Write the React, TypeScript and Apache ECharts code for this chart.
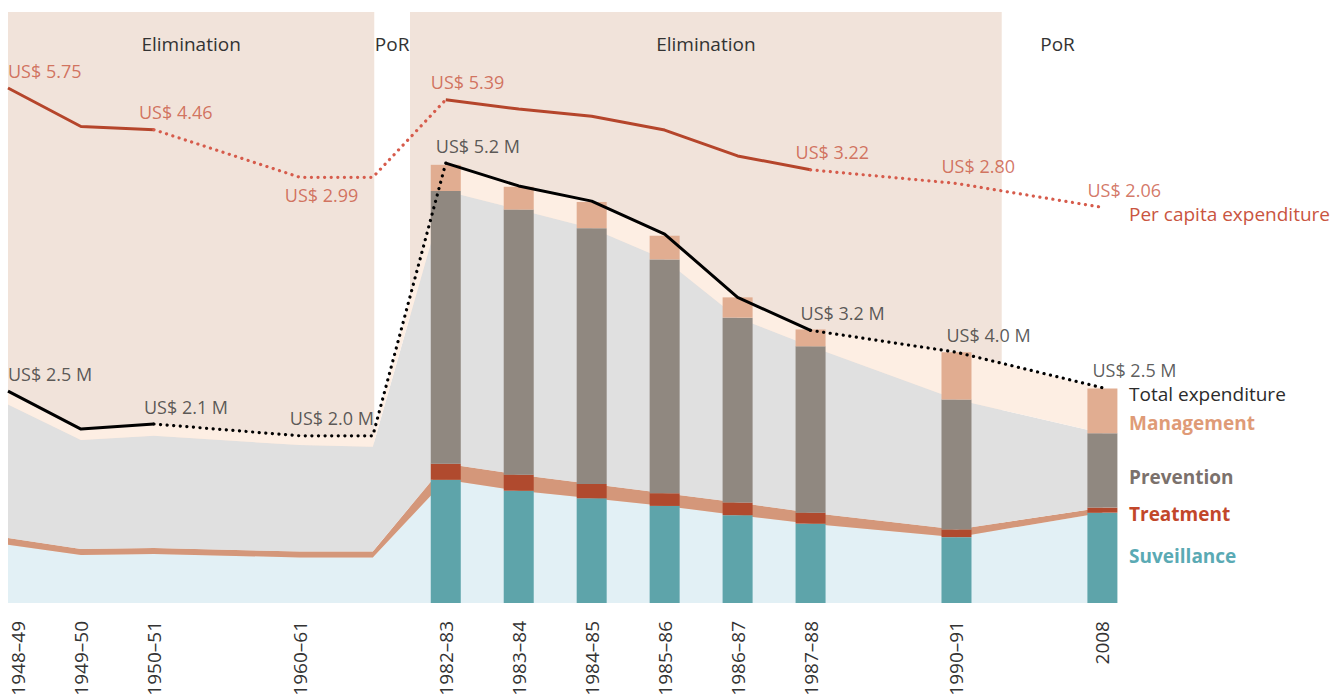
import React, { useEffect, useRef } from "react";
import * as echarts from "echarts";

// ---- data ----
const periods = ["1948–49", "1949–50", "1950–51", "1960–61", "", "1982–83", "1983–84", "1984–85", "1985–86", "1986–87", "1987–88", "1990–91", "2008"];
const periodPos = [0, 1, 2, 4, 5, 6, 7, 8, 9, 10, 11, 13, 15];
const hasBar = [false, false, false, false, false, true, true, true, true, true, true, true, true];

// US$ millions (stacked components)
const surveillance = [0.69, 0.57, 0.58, 0.54, 0.54, 1.46, 1.33, 1.24, 1.15, 1.04, 0.94, 0.78, 1.07];
const treatment = [0.08, 0.07, 0.07, 0.07, 0.07, 0.19, 0.19, 0.17, 0.15, 0.15, 0.13, 0.09, 0.06];
const prevention = [1.58, 1.29, 1.33, 1.26, 1.24, 3.23, 3.14, 3.03, 2.77, 2.19, 1.97, 1.54, 0.88];
const management = [0.17, 0.13, 0.14, 0.11, 0.12, 0.31, 0.27, 0.31, 0.28, 0.24, 0.2, 0.56, 0.53];

// total expenditure line (US$ millions) and per capita (US$)
const totalExpenditure = [2.51, 2.06, 2.12, 1.98, 1.98, 5.21, 4.94, 4.76, 4.37, 3.62, 3.23, 2.97, 2.55];
const perCapita = [5.75, 4.56, 4.46, 2.99, 2.99, 5.39, 5.1, 4.88, 4.45, 3.65, 3.22, 2.8, 2.06];
const totalLabels = ["US$ 2.5 M", "", "US$ 2.1 M", "US$ 2.0 M", "", "US$ 5.2 M", "", "", "", "", "US$ 3.2 M", "US$ 4.0 M", "US$ 2.5 M"];
const perCapitaLabels = ["US$ 5.75", "", "US$ 4.46", "US$ 2.99", "", "US$ 5.39", "", "", "", "", "US$ 3.22", "US$ 2.80", "US$ 2.06"];
const perCapitaLabelSide = ["top", "top", "top", "bottom", "top", "top", "top", "top", "top", "top", "top", "top", "top"];
// segment i joins point i and i+1; true = dotted (estimated)
const dottedSegment = [false, false, true, true, true, false, false, false, false, false, true, true];

const phases = [
  { name: "Elimination", from: 0, to: 5.02, shaded: true },
  { name: "PoR", from: 5.02, to: 5.51, shaded: false },
  { name: "Elimination", from: 5.51, to: 13.62, shaded: true },
  { name: "PoR", from: 13.62, to: 15.15, shaded: false },
];

const FONT = "'Open Sans', 'Noto Sans', sans-serif";

// stacked series: rows are [value, position] so that the value dimension is stacked
const stackRows = (vals: number[]) => vals.map((v, i) => [v, periodPos[i]]);
const barRows = (vals: number[]) => stackRows(vals).filter((_, i) => hasBar[i]);
const segData = (vals: number[], dotted: boolean) =>
  vals.map((v, i) => {
    const prev = i > 0 ? dottedSegment[i - 1] : undefined;
    const next = i < dottedSegment.length ? dottedSegment[i] : undefined;
    const include = prev === dotted || next === dotted;
    return [periodPos[i], include ? v : null];
  });

export default function App() {
  const ref = useRef<HTMLDivElement>(null);
  useEffect(() => {
    if (!ref.current) return;
    const chart = echarts.init(ref.current, undefined, { renderer: "svg" });

    const areaSeries = [
      { name: "Surveillance", data: surveillance, color: "#e2f0f5" },
      { name: "Treatment", data: treatment, color: "#d4977a" },
      { name: "Prevention", data: prevention, color: "#e0e0e0" },
      { name: "Management", data: management, color: "#fdeee3" },
    ].map((s) => ({
      type: "line",
      name: s.name + " area",
      stack: "area",
      encode: { x: 1, y: 0 },
      data: stackRows(s.data),
      symbol: "none",
      lineStyle: { width: 0 },
      areaStyle: { color: s.color, opacity: 1 },
      z: 2,
      silent: true,
    }));

    const barSeries = [
      { name: "Surveillance", data: surveillance, color: "#5ea4aa" },
      { name: "Treatment", data: treatment, color: "#b04a2e" },
      { name: "Prevention", data: prevention, color: "#908880" },
      { name: "Management", data: management, color: "#e1ad91" },
    ].map((s) => ({
      type: "bar",
      name: s.name,
      stack: "bar",
      barWidth: 30,
      encode: { x: 1, y: 0 },
      data: barRows(s.data),
      itemStyle: { color: s.color },
      z: 3,
      silent: true,
    }));

    const dotted = { type: [0.1, 6.5], cap: "round", width: 3.2 } as any;

    const option: any = {
      animation: false,
      textStyle: { fontFamily: FONT },
      grid: [
        { left: 8, top: 12, right: 218, bottom: 95, containLabel: false, outerBoundsMode: "none" },
        { left: 8, top: 12, right: 218, height: 262, containLabel: false, outerBoundsMode: "none" },
      ],
      xAxis: [
        {
          type: "value",
          gridIndex: 0,
          min: 0,
          max: 15.2,
          interval: 1,
          axisLine: { show: false },
          axisTick: { show: false },
          splitLine: { show: false },
          axisLabel: {
            rotate: 90,
            margin: 18,
            fontSize: 19,
            color: "#333",
            fontFamily: FONT,
            hideOverlap: false,
            formatter: (v: number) => {
              const i = periodPos.indexOf(v);
              if (i < 0) return "";
              return i === 0 ? `{edge|${periods[i]}}` : periods[i];
            },
            rich: {
              edge: { fontSize: 19, color: "#333", fontFamily: FONT, padding: [20, 0, 0, 0] },
            },
          },
        },
        {
          type: "value",
          gridIndex: 1,
          min: 0,
          max: 15.2,
          show: false,
        },
      ],
      yAxis: [
        { type: "value", gridIndex: 0, min: 0, max: 7, show: false },
        { type: "value", gridIndex: 1, min: 0, max: 8.1, show: false },
      ],
      graphic: [
        { name: "Total expenditure", y: 394, color: "#2b2b2b", weight: "normal" },
        { name: "Management", y: 423, color: "#df9b77", weight: "bold" },
        { name: "Prevention", y: 477, color: "#7b716c", weight: "bold" },
        { name: "Treatment", y: 514, color: "#c2472a", weight: "bold" },
        { name: "Suveillance", y: 556, color: "#5aaab4", weight: "bold" },
        { name: "Per capita expenditure", y: 214, color: "#c9553f", weight: "normal" },
      ].map((t) => ({
        type: "text",
        x: 1129,
        y: t.y,
        style: {
          text: t.name,
          fill: t.color,
          font: `${t.weight} 19px ${FONT}`,
          align: "left",
          verticalAlign: "middle",
        },
      })),
      series: [
        {
          type: "line",
          name: "phases",
          data: [[0, 0]],
          symbol: "none",
          lineStyle: { width: 0 },
          z: 1,
          silent: true,
          markArea: {
            silent: true,
            data: phases.map((p) => [
              {
                name: p.name,
                xAxis: p.from,
                yAxis: 7,
                itemStyle: { color: p.shaded ? "#f1e3da" : "rgba(0,0,0,0)" },
              },
              { xAxis: p.to, yAxis: 0 },
            ]),
            label: {
              show: true,
              position: "insideTop",
              distance: 22,
              fontSize: 19,
              color: "#333",
              fontFamily: FONT,
            },
          },
        },
        ...areaSeries,
        ...barSeries,
        {
          type: "line",
          name: "Total expenditure",
          data: segData(totalExpenditure, false),
          symbol: "none",
          lineStyle: { color: "#000", width: 3 },
          z: 5,
          silent: true,
        },
        {
          type: "line",
          name: "Total expenditure (dotted)",
          data: segData(totalExpenditure, true),
          symbol: "none",
          lineStyle: { color: "#000", ...dotted },
          z: 5,
          silent: true,
        },
        {
          type: "line",
          name: "Per capita expenditure",
          xAxisIndex: 1,
          yAxisIndex: 1,
          data: segData(perCapita, false),
          symbol: "none",
          lineStyle: { color: "#b5452b", width: 3 },
          z: 5,
          silent: true,
        },
        {
          type: "line",
          name: "Per capita expenditure (dotted)",
          xAxisIndex: 1,
          yAxisIndex: 1,
          data: segData(perCapita, true),
          symbol: "none",
          lineStyle: { color: "#d65b4b", ...dotted },
          z: 5,
          silent: true,
        },
        {
          type: "scatter",
          name: "total labels",
          symbolSize: 1,
          itemStyle: { color: "rgba(0,0,0,0)" },
          z: 6,
          silent: true,
          data: totalExpenditure.map((v, i) => ({
            value: [periodPos[i], v],
            label: {
              show: totalLabels[i] !== "",
              formatter: totalLabels[i],
              position: "top",
              distance: 8,
              align: "left",
              offset: [i === 0 ? 0 : -10, 0],
              fontSize: 18,
              color: "#333",
              fontFamily: FONT,
            },
          })),
        },
        {
          type: "scatter",
          name: "per capita labels",
          xAxisIndex: 1,
          yAxisIndex: 1,
          symbolSize: 1,
          itemStyle: { color: "rgba(0,0,0,0)" },
          z: 6,
          silent: true,
          data: perCapita.map((v, i) => ({
            value: [periodPos[i], v],
            label: {
              show: perCapitaLabels[i] !== "",
              formatter: perCapitaLabels[i],
              position: perCapitaLabelSide[i],
              distance: 8,
              align: "left",
              offset: [i === 0 ? 0 : -15, 0],
              fontSize: 18,
              color: "#c9553f",
              fontFamily: FONT,
            },
          })),
        },
      ],
    };

    chart.setOption(option);
    return () => chart.dispose();
  }, []);

  return (
    <div
      ref={ref}
      style={{ position: "fixed", left: 0, top: 0, width: 1335, height: 698, background: "#fff" }}
    />
  );
}
